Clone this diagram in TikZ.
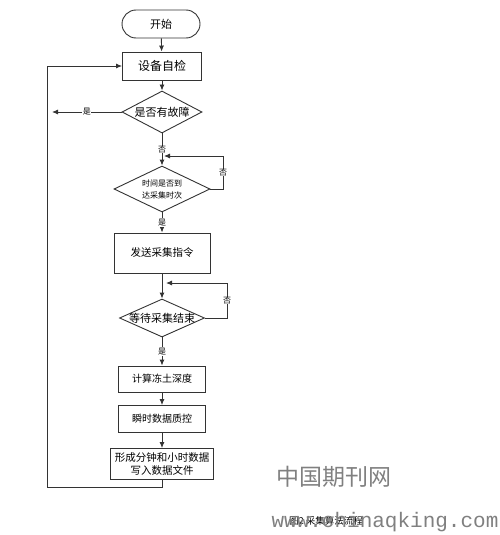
\documentclass[tikz,border=0pt]{standalone}
\usepackage{fontspec}
\setmainfont{Noto Sans CJK SC}
\newfontfamily\markfont{Liberation Mono}
\usetikzlibrary{shapes.geometric,arrows.meta}
\tikzset{stepbox/.style={draw=black!80, line width=0.9pt, rectangle, inner sep=0pt, align=center, font=\fontsize{11}{14}\selectfont},
         term/.style={stepbox, rounded corners=14pt, minimum width=78pt, minimum height=28pt},
         choice/.style={draw=black!80, line width=0.9pt, diamond, aspect=2, inner sep=0pt, align=center, font=\fontsize{11}{14}\selectfont},
         flow/.style={draw=black!80, line width=0.9pt, -{Latex[length=6pt,width=5pt]}},
         lab/.style={fill=white, inner sep=0.5pt, font=\fontsize{8}{9}\selectfont}}

\begin{document}
\begin{tikzpicture}[x=1pt,y=-1pt]
  \useasboundingbox (0,0) rectangle (500,535);
  % flow chart nodes
  \node[term] (start) at (161,24) {开始};
  \node[stepbox, minimum width=79pt, minimum height=28pt, font=\fontsize{12}{14}\selectfont] (check) at (162,66) {设备自检};
  \node[choice, inner xsep=-3pt, minimum width=80pt, minimum height=42pt] (fault) at (162,112) {是否有故障};
  \node[choice, minimum width=96pt, minimum height=46pt, font=\fontsize{8}{12}\selectfont] (time) at (162,189) {时间是否到\\达采集时次};
  \node[stepbox, minimum width=96pt, minimum height=40pt, font=\fontsize{10.5}{14}\selectfont] (send) at (162,253) {发送采集指令};
  \node[choice, aspect=2.2, inner xsep=-5pt, minimum width=85pt, minimum height=38pt] (wait) at (162,318) {等待采集结束};
  \node[stepbox, minimum width=87pt, minimum height=26pt, font=\fontsize{10}{14}\selectfont] (calc) at (162,379) {计算冻土深度};
  \node[stepbox, minimum width=87pt, minimum height=27pt, font=\fontsize{10}{14}\selectfont] (qc) at (162,419) {瞬时数据质控};
  \node[stepbox, minimum width=103pt, minimum height=31pt, font=\fontsize{10.5}{13}\selectfont] (file) at (162,464) {形成分钟和小时数据\\写入数据文件};
  % free ends of the loops
  \coordinate (faultout) at (52,112);
  \coordinate (timeback) at (223,156);
  \coordinate (timein) at (164,156);
  \coordinate (waitback) at (227,283);
  \coordinate (waitin) at (166,283);
  \coordinate (back) at (47,487);
  % connectors
  \draw[flow] (start) -- (check);
  \draw[flow] (check) -- (fault);
  \draw[flow] (fault.west) -- node[lab]{是} (faultout);
  \draw[flow] (fault) -- node[lab]{否} (time);
  \draw[flow] (time.east) -| node[lab, pos=0.75]{否} (timeback) -- (timein);
  \draw[flow] (time) -- node[lab]{是} (send);
  \draw[flow] (send) -- (wait);
  \draw[flow] (wait.east) -| node[lab, pos=0.75]{否} (waitback) -- (waitin);
  \draw[flow] (wait) -- node[lab]{是} (calc);
  \draw[flow] (calc) -- (qc);
  \draw[flow] (qc) -- (file);
  \draw[flow] (file.south) |- (back) |- (check.west);
  % caption and watermark
  \node[font=\fontsize{9.5}{10}\selectfont] (caption) at (326,521) {图2 采集算法流程};
  \node[text=black!50, font=\fontsize{23}{24}\selectfont] (markcn) at (334,477) {中国期刊网};
  \node[text=black!50, font=\markfont\fontsize{21}{22}\selectfont] (markurl) at (385,522) {www.chinaqking.com};
\end{tikzpicture}
\end{document}
